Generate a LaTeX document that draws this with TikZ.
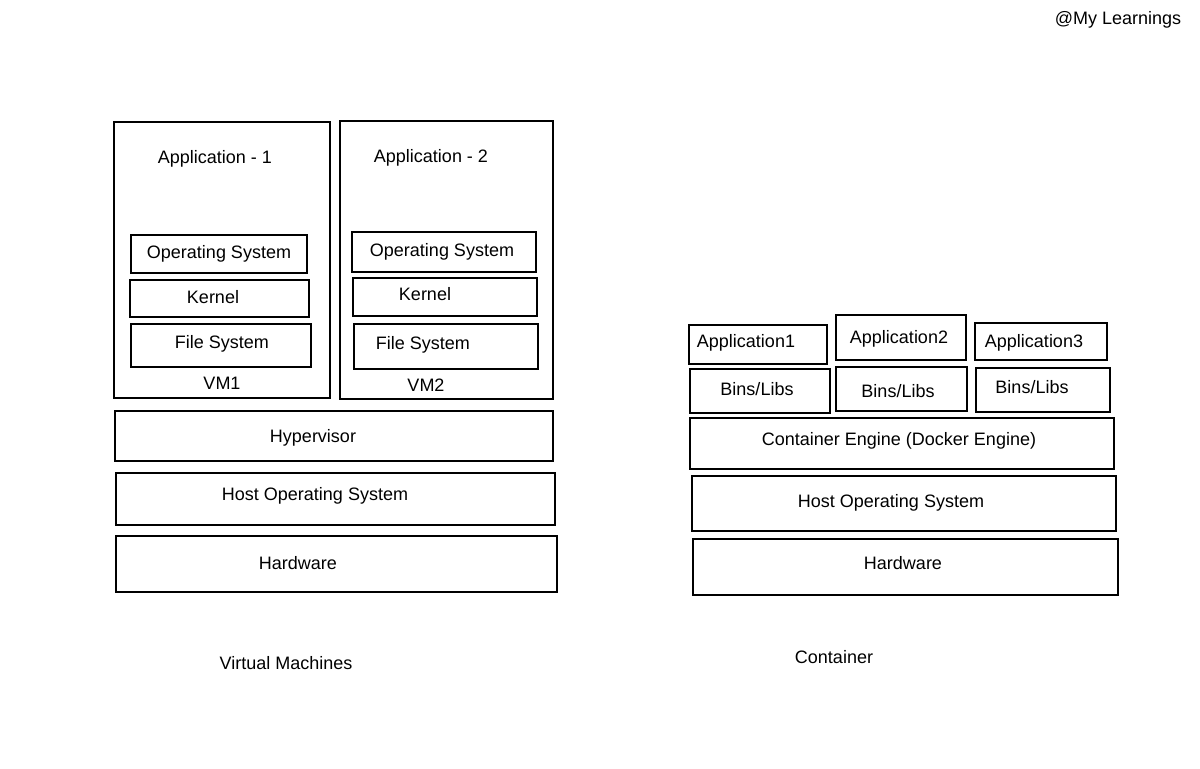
\documentclass[tikz,border=0pt]{standalone}
\usepackage{fontspec}
\setmainfont{Liberation Sans}
\usetikzlibrary{fit,positioning}

\begin{document}
\begin{tikzpicture}[x=0.5pt,y=-0.5pt,line width=1.1pt,
    box/.style={draw,rectangle,inner sep=0pt},
    lbl/.style={inner sep=0pt,yshift=-1pt,font=\fontsize{9}{10}\selectfont}]

    \useasboundingbox (0,0) rectangle (1200,768);

    % virtual machines
    \node[box, fit={(114,122) (330,398)}] (vm1) {};
    \node[box, fit={(340,121) (553,399)}] (vm2) {};

    \node[box, fit={(131,235) (307,273)}] (os1) {};
    \node[box, fit={(130,280) (309,317)}] (kernel1) {};
    \node[box, fit={(131,324) (311,367)}] (fs1) {};
    \node[box, fit={(352,232) (536,272)}] (os2) {};
    \node[box, fit={(353,278) (537,316)}] (kernel2) {};
    \node[box, fit={(354,324) (538,369)}] (fs2) {};

    \node[box, fit={(115,411) (553,461)}] (hyp) {};
    \node[box, fit={(116,473) (555,525)}] (hostL) {};
    \node[box, fit={(116,536) (557,592)}] (hwL) {};

    \node[lbl] (app1t) at (215,157) {Application - 1};
    \node[lbl] (app2t) at (431,156) {Application - 2};
    \node[lbl] (os1t) at (219,252) {Operating System};
    \node[lbl] (kernel1t) at (213,295) {Kernel};
    \node[lbl] (fs1t) at (222,342) {File System};
    \node[lbl] (vm1t) at (222,381) {VM1};
    \node[lbl] (os2t) at (442,250) {Operating System};
    \node[lbl] (kernel2t) at (425,292) {Kernel};
    \node[lbl] (fs2t) at (423,343) {File System};
    \node[lbl] (vm2t) at (426,383) {VM2};
    \node[lbl] (hypt) at (313,436) {Hypervisor};
    \node[lbl] (hostLt) at (315,494) {Host Operating System};
    \node[lbl] (hwLt) at (298,561) {Hardware};
    \node[lbl] (vmt) at (286,661) {Virtual Machines};

    % containers
    \node[box, fit={(689,325) (827,364)}] (capp1) {};
    \node[box, fit={(836,315) (966,360)}] (capp2) {};
    \node[box, fit={(975,323) (1107,360)}] (capp3) {};
    \node[box, fit={(690,369) (830,413)}] (bins1) {};
    \node[box, fit={(836,367) (967,411)}] (bins2) {};
    \node[box, fit={(976,368) (1110,412)}] (bins3) {};
    \node[box, fit={(690,418) (1114,469)}] (engine) {};
    \node[box, fit={(692,476) (1116,531)}] (hostR) {};
    \node[box, fit={(693,539) (1118,595)}] (hwR) {};

    \node[lbl] (capp1t) at (746,341) {Application1};
    \node[lbl] (capp2t) at (899,337) {Application2};
    \node[lbl] (capp3t) at (1034,341) {Application3};
    \node[lbl] (bins1t) at (757,387) {Bins/Libs};
    \node[lbl] (bins2t) at (898,389) {Bins/Libs};
    \node[lbl] (bins3t) at (1032,385) {Bins/Libs};
    \node[lbl] (enginet) at (899,439) {Container Engine (Docker Engine)};
    \node[lbl] (hostRt) at (891,501) {Host Operating System};
    \node[lbl] (hwRt) at (903,561) {Hardware};
    \node[lbl] (ct) at (834,655) {Container};

    \node[lbl] (credit) at (1118,18) {@My Learnings};
\end{tikzpicture}
\end{document}
